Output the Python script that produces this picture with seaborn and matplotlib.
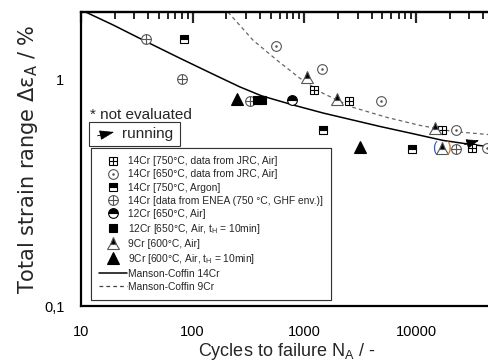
import numpy as np
import pandas as pd
import matplotlib
matplotlib.use("Agg")
import matplotlib.pyplot as plt
import seaborn as sns
from matplotlib.lines import Line2D
from matplotlib.patches import Rectangle
from matplotlib.legend_handler import HandlerTuple
from matplotlib.ticker import FixedLocator, FixedFormatter, NullFormatter

# ---------------- data ----------------
cr14_750_jrc_N = [1218, 2506, 17050, 31600]
cr14_750_jrc_e = [0.90, 0.80, 0.60, 0.50]
cr14_650_jrc_N = [557, 1440, 4850, 22750, 43100]
cr14_650_jrc_e = [1.40, 1.107, 0.80, 0.60, 0.50]
cr14_750_ar_N = [84, 1470, 9180]
cr14_750_ar_e = [1.50, 0.60, 0.495]
cr14_enea_N = [38.2, 80.2, 326, 22750]
cr14_enea_e = [1.50, 1.00, 0.80, 0.495]
cr12_650_N = [774]
cr12_650_e = [0.807]
cr12_650_th_N = [375, 415]
cr12_650_th_e = [0.807, 0.807]
cr9_600_N = [1055, 1960, 14760, 17060]
cr9_600_e = [1.02, 0.815, 0.607, 0.50]
cr9_600_th_N = [249, 3150]
cr9_600_th_e = [0.815, 0.505]

# points
mc14_N = [10.86, 19.47, 38.75, 76.95, 152.9, 265.2, 414.6, 795.6, 1476, 4752, 9438, 17520, 32520, 44030, 48000]
mc14_e = [1.985, 1.734, 1.462, 1.238, 1.052, 0.925, 0.845, 0.770, 0.7096, 0.6194, 0.5751, 0.5373, 0.5142, 0.5054, 0.503]
mc9_N = [207, 347, 569, 914, 1469, 2724, 5490, 10850, 21400, 43150, 48000]
mc9_e = [1.98, 1.488, 1.214, 1.010, 0.867, 0.752, 0.679, 0.626, 0.589, 0.571, 0.569]

# not-evaluated point (parentheses) and running arrow
not_eval_N = [17060]
not_eval_e = [0.50]
run_tail_N, run_tail_e = [25800], [0.511]
run_tip_N, run_tip_e = [38900], [0.542]

labels = [
    "14Cr [750°C, data from JRC, Air]",
    "14Cr [650°C, data from JRC, Air]",
    "14Cr [750°C, Argon]",
    "14Cr [data from ENEA (750 °C, GHF env.)]",
    "12Cr [650°C, Air]",
    "12Cr [650°C, Air, t$_\\mathregular{H}$ = 10min]",
    "9Cr [600°C, Air]",
    "9Cr [600°C, Air, t$_\\mathregular{H}$ = 10min]",
    "Manson-Coffin 14Cr",
    "Manson-Coffin 9Cr",
]
xticks = [10, 100, 1000, 10000]
xticklabels = ["10", "100", "1000", "10000"]
yticks = [0.1, 1]
yticklabels = ["0,1", "1"]

# ---------------- style ----------------
sns.set_style("white")
plt.rcParams["font.family"] = ["Liberation Sans", "DejaVu Sans"]
plt.rcParams["mathtext.fontset"] = "custom"
plt.rcParams["mathtext.rm"] = "Liberation Sans"
plt.rcParams["mathtext.it"] = "Liberation Sans"

fig = plt.figure(figsize=(4.88, 3.61), dpi=100)
ax = fig.add_axes([81 / 488, 1 - 306 / 361, (492 - 81) / 488, (306 - 12) / 361])
ax.set_xscale("log")
ax.set_yscale("log")
ax.set_xlim(10, 48000)
ax.set_ylim(0.1, 1.98)

# curves
sns.lineplot(x=mc14_N, y=mc14_e, ax=ax, color="black", lw=1.1, estimator=None, sort=False)
sns.lineplot(x=mc9_N, y=mc9_e, ax=ax, color="#666666", lw=0.9, estimator=None, sort=False,
             linestyle=(0, (3, 2.5)))

K = "black"
G = "#555555"


def pts(N, e, **kw):
    base = dict(linestyle="none", color=K, markeredgecolor=K, markeredgewidth=0.8,
                estimator=None, sort=False, ax=ax, legend=False)
    base.update(kw)
    sns.lineplot(x=N, y=e, **base)


# 14Cr 750 JRC : crossed square
pts(cr14_750_jrc_N, cr14_750_jrc_e, marker="s", markersize=6, markerfacecolor="white")
pts(cr14_750_jrc_N, cr14_750_jrc_e, marker="+", markersize=6)
# 14Cr 650 JRC : circle with dot
pts(cr14_650_jrc_N, cr14_650_jrc_e, marker="o", markersize=7, markerfacecolor="white",
    markeredgecolor=G, color=G)
pts(cr14_650_jrc_N, cr14_650_jrc_e, marker=".", markersize=2, markeredgecolor=G, color=G)
# 14Cr 750 Argon : half square
pts(cr14_750_ar_N, cr14_750_ar_e, marker="s", markersize=6, fillstyle="top",
    markerfacecoloralt="white")
# ENEA : crossed circle
pts(cr14_enea_N, cr14_enea_e, marker="o", markersize=7, markerfacecolor="white",
    markeredgecolor=G, color=G)
pts(cr14_enea_N, cr14_enea_e, marker="+", markersize=7, markeredgecolor=G, color=G)
# 12Cr 650 : half circle
pts(cr12_650_N, cr12_650_e, marker="o", markersize=7, fillstyle="top", markerfacecoloralt="white")
# 12Cr 650 tH : filled square
pts(cr12_650_th_N, cr12_650_th_e, marker="s", markersize=6)
# 9Cr 600 : half triangle
pts(cr9_600_N, cr9_600_e, marker="^", markersize=8, fillstyle="top", markerfacecoloralt="white",
    markeredgecolor=G)
# 9Cr 600 tH : filled triangle
pts(cr9_600_th_N, cr9_600_th_e, marker="^", markersize=8)

# parentheses around not-evaluated point
for n, e in zip(not_eval_N, not_eval_e):
    ax.annotate("(", (n, e), xytext=(-5, 0), textcoords="offset points", ha="center",
                va="center", fontsize=10, color="#3060b0")
    ax.annotate(")", (n, e), xytext=(5, 0), textcoords="offset points", ha="center",
                va="center", fontsize=10, color="#c07030")
# running arrow
for tn, te, hn, he in zip(run_tail_N, run_tail_e, run_tip_N, run_tip_e):
    ax.annotate("", xy=(hn, he), xytext=(tn, te),
                arrowprops=dict(arrowstyle="-|>,head_length=0.8,head_width=0.3",
                                color="black", lw=0.6, linestyle=(0, (2, 1))))

# ---------------- ticks & spines ----------------
for s in ["left", "bottom", "top"]:
    ax.spines[s].set_linewidth(1.6)
    ax.spines[s].set_color("black")
ax.spines["right"].set_visible(False)

minor_x = [m * d for d in [10, 100, 1000, 10000] for m in range(2, 10)]
ax.xaxis.set_major_locator(FixedLocator(xticks))
ax.xaxis.set_major_formatter(FixedFormatter(xticklabels))
ax.yaxis.set_major_locator(FixedLocator(yticks))
ax.yaxis.set_major_formatter(FixedFormatter(yticklabels))
ax.xaxis.set_minor_locator(FixedLocator(minor_x))
ax.yaxis.set_minor_locator(FixedLocator([m * 0.1 for m in range(2, 10)]))
ax.xaxis.set_minor_formatter(NullFormatter())
ax.yaxis.set_minor_formatter(NullFormatter())
ax.tick_params(axis="both", which="major", direction="out", length=8, width=1.6,
               labelsize=10.5, colors="black")
ax.tick_params(axis="x", which="major", pad=6)
ax.tick_params(axis="y", which="major", pad=4)
ax.tick_params(axis="both", which="minor", direction="in", length=5, width=1.4)

sec = ax.secondary_xaxis("top")
sec.xaxis.set_major_locator(FixedLocator(xticks))
sec.xaxis.set_minor_locator(FixedLocator(minor_x))
sec.xaxis.set_major_formatter(NullFormatter())
sec.xaxis.set_minor_formatter(NullFormatter())
sec.tick_params(which="major", direction="in", length=8, width=1.6)
sec.tick_params(which="minor", direction="in", length=5, width=1.4)
sec.spines["top"].set_linewidth(1.6)
ax.tick_params(axis="x", which="both", top=False)

ax.set_xlabel("Cycles to failure N$_\\mathregular{A}$ / -", fontsize=13, labelpad=1)
ax.set_ylabel("Total strain range Δε$_\\mathregular{A}$ / %", fontsize=15, labelpad=3,
              family=["DejaVu Sans"])

# ---------------- legend ----------------
def L(**kw):
    d = dict(linestyle="none", color=K, markeredgecolor=K, markeredgewidth=0.8)
    d.update(kw)
    return Line2D([], [], **d)

handles = [
    (L(marker="s", markersize=6, markerfacecolor="white"), L(marker="+", markersize=6)),
    (L(marker="o", markersize=7, markerfacecolor="white", markeredgecolor=G),
     L(marker=".", markersize=2, markeredgecolor=G, color=G)),
    L(marker="s", markersize=6, fillstyle="top", markerfacecoloralt="white"),
    (L(marker="o", markersize=7, markerfacecolor="white", markeredgecolor=G),
     L(marker="+", markersize=7, markeredgecolor=G)),
    L(marker="o", markersize=7, fillstyle="top", markerfacecoloralt="white"),
    L(marker="s", markersize=6),
    L(marker="^", markersize=8, fillstyle="top", markerfacecoloralt="white", markeredgecolor=G),
    L(marker="^", markersize=8),
    Line2D([], [], color="black", lw=1.1),
    Line2D([], [], color="#444444", lw=0.9, linestyle=(0, (3, 2.5))),
]
leg = ax.legend(handles, labels, handler_map={tuple: HandlerTuple(ndivide=1, pad=0)},
                loc="upper left", bbox_to_anchor=(0.024, 0.537), fontsize=7.4,
                frameon=True, fancybox=False, framealpha=1, edgecolor="#333333",
                borderpad=0.8, labelspacing=0.3, handlelength=2.7, handletextpad=0.15,
                borderaxespad=0)
leg.get_frame().set_linewidth(0.8)
ax.add_artist(leg)

# "* not evaluated" and running box
ax.text(0.022, 0.65, "* not evaluated", transform=ax.transAxes, fontsize=11, va="center", ha="left")
ax.add_patch(Rectangle((0.0195, 0.544), 0.2215, 0.082, transform=ax.transAxes,
                       fc="white", ec="#333333", lw=0.8, zorder=5))
ax.text(0.0998, 0.586, "running", transform=ax.transAxes, fontsize=11, va="center",
        ha="left", zorder=6)
ax.annotate("", xy=(0.0876, 0.594), xytext=(0.034, 0.577), xycoords="axes fraction",
            arrowprops=dict(arrowstyle="-|>,head_length=0.9,head_width=0.3", color="black",
                            lw=0.7, linestyle=(0, (2, 1))), zorder=7)

fig.savefig("out.png", dpi=100)
